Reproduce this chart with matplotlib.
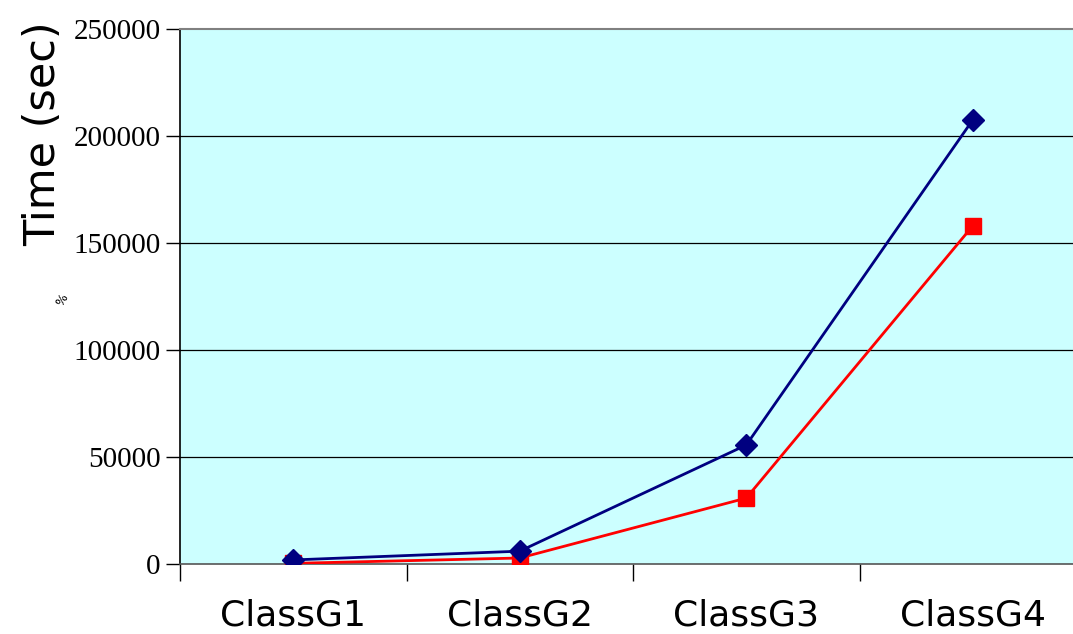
import matplotlib
matplotlib.use("Agg")
import matplotlib.pyplot as plt
from matplotlib.ticker import FixedLocator

# run times per graph class
classes = ["ClassG1", "ClassG2", "ClassG3", "ClassG4"]
time_blue = [1900, 6000, 55600, 207500]
time_red = [300, 2800, 30800, 158000]
y_ticks = [0, 50000, 100000, 150000, 200000, 250000]

fig = plt.figure(figsize=(10.73, 6.34), dpi=100)
ax = fig.add_axes([180 / 1073, 70 / 634, 906 / 1073, 535 / 634])
ax.set_facecolor("#ccffff")

x = list(range(len(classes)))
ax.plot(x, time_blue, color="#000080", lw=2.0, marker="D", ms=11,
        mec="#000080", mfc="#000080", zorder=4)
ax.plot(x, time_red, color="#ff0000", lw=2.0, marker="s", ms=12,
        mec="#ff0000", mfc="#ff0000", zorder=3)

ax.set_xlim(-0.5, len(classes) - 0.5)
ax.set_ylim(0, 250000)

# horizontal gridlines
ax.set_yticks(y_ticks)
ax.set_yticklabels([str(v) for v in y_ticks], family="Liberation Serif",
                   fontsize=21)
for v in y_ticks[1:-1]:
    ax.axhline(v, color="black", lw=0.9, zorder=1)

# category labels sit between tick marks
ax.xaxis.set_major_locator(FixedLocator(x))
ax.set_xticklabels(classes, family="DejaVu Sans", fontsize=26)
ax.xaxis.set_minor_locator(FixedLocator([i - 0.5 for i in range(len(classes) + 1)]))
ax.tick_params(axis="x", which="major", length=0, pad=25)
ax.tick_params(axis="x", which="minor", length=12, width=1, color="black")
ax.tick_params(axis="y", length=10, width=1, color="black", pad=4)

for side in ["top", "right"]:
    ax.spines[side].set_color("#808080")
    ax.spines[side].set_linewidth(1.5)
ax.spines["left"].set_color("black")
ax.spines["left"].set_linewidth(1.2)
ax.spines["bottom"].set_color("#555555")
ax.spines["bottom"].set_linewidth(1.2)

ax.set_ylabel("Time (sec)", family="DejaVu Sans", fontsize=31)
ax.yaxis.set_label_coords(-0.128, 0.805)

fig.text(62 / 1073, 1 - 300 / 634, "%", fontsize=9, rotation=60,
         ha="center", va="center", color="black")

fig.savefig("out.png", dpi=100)
